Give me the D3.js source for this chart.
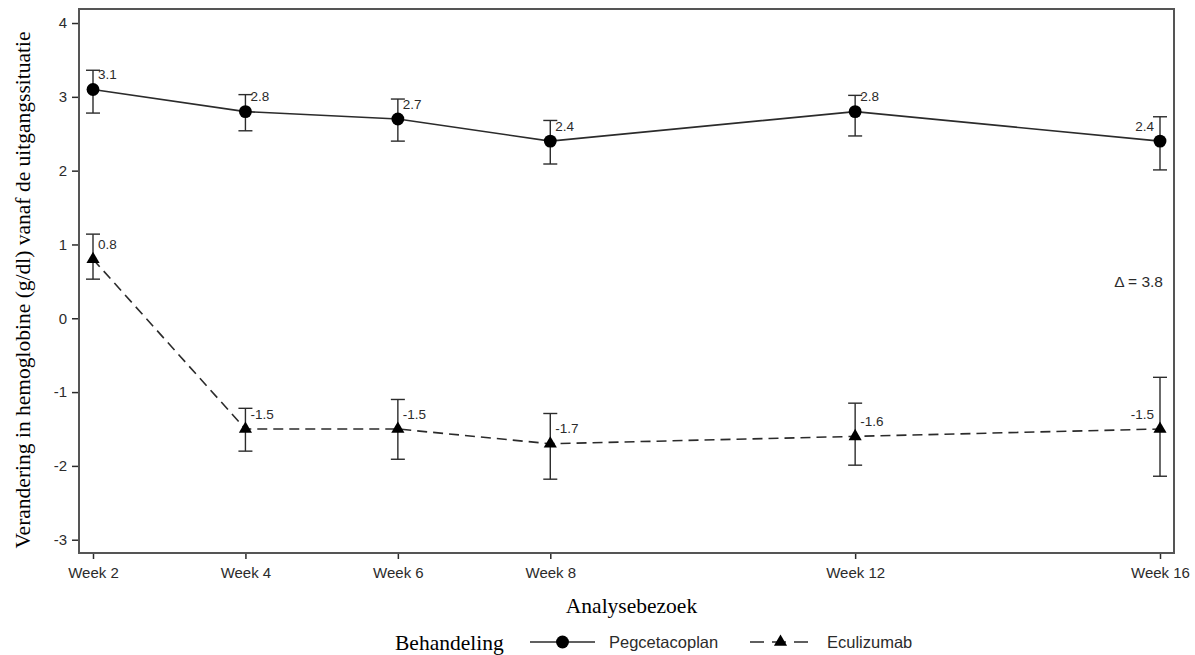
<!DOCTYPE html>
<html>
<head>
<meta charset="utf-8">
<script src="https://cdn.jsdelivr.net/npm/d3@7"></script>
<style>
    body { margin: 0; background: #fff; }
    svg { display: block; }
</style>
</head>
<body>
<svg id="chart"></svg>
<script>
// values
const weeks = [2, 4, 6, 8, 12, 16];
const weekLabels = ["Week 2", "Week 4", "Week 6", "Week 8", "Week 12", "Week 16"];
const yTicks = [-3, -2, -1, 0, 1, 2, 3, 4];

const pegMean = [3.1, 2.8, 2.7, 2.4, 2.8, 2.4];
const pegUpper = [3.36, 3.03, 2.97, 2.68, 3.02, 2.73];
const pegLower = [2.78, 2.54, 2.40, 2.09, 2.47, 2.01];

const ecuMean = [0.8, -1.5, -1.5, -1.7, -1.6, -1.5];
const ecuUpper = [1.14, -1.22, -1.10, -1.29, -1.15, -0.80];
const ecuLower = [0.53, -1.80, -1.91, -2.18, -1.99, -2.14];

const deltaText = "\u0394 = 3.8";

const width = 1195;
const height = 655;

const frame = { left: 79, right: 1174, top: 9, bottom: 553 };
const inset = 14;

const ink = "#2b2b2b";
const sans = "Arial, 'Liberation Sans', sans-serif";
const serif = "'Times New Roman', 'Liberation Serif', serif";

// plain hyphen instead of the unicode minus d3 uses
const hyphen = (f) => (v) => f(v).replace("\u2212", "-");
const fmtInt = hyphen(d3.format("d"));
const fmtOne = hyphen(d3.format(".1f"));

const svg = d3.select("#chart").attr("width", width).attr("height", height);

const scaleX = d3.scaleLinear().domain([2, 16]).range([frame.left + inset, frame.right - inset]);
const scaleY = d3.scaleLinear().domain([-3.18, 4.19]).range([frame.bottom, frame.top]);

function toSeries(mean, upper, lower) {
    return weeks.map((w, i) => ({ week: w, value: mean[i], hi: upper[i], lo: lower[i] }));
}

const series = [
    { name: "Pegcetacoplan", data: toSeries(pegMean, pegUpper, pegLower), dash: null, marker: d3.symbolCircle, size: 130 },
    { name: "Eculizumab", data: toSeries(ecuMean, ecuUpper, ecuLower), dash: "10,6", marker: d3.symbolTriangle, size: 75 }
];

// axes
const yAxis = d3.axisLeft(scaleY).tickValues(yTicks).tickSize(7).tickPadding(5).tickFormat(fmtInt);
const xAxis = d3.axisBottom(scaleX).tickValues(weeks).tickSize(6).tickPadding(8)
    .tickFormat((d, i) => weekLabels[i]);

const gy = svg.append("g").attr("transform", `translate(${frame.left},0)`).call(yAxis);
const gx = svg.append("g").attr("transform", `translate(0,${frame.bottom})`).call(xAxis);

[gx, gy].forEach((g) => {
    g.select(".domain").remove();
    g.selectAll(".tick line").attr("stroke", ink).attr("stroke-width", 1.5);
    g.selectAll(".tick text").attr("fill", ink).style("font-family", sans).style("font-size", "15px");
});

// frame
svg.append("rect")
    .attr("x", frame.left)
    .attr("y", frame.top)
    .attr("width", frame.right - frame.left)
    .attr("height", frame.bottom - frame.top)
    .attr("fill", "none")
    .attr("stroke", "#555")
    .attr("stroke-width", 2);

const line = d3.line().x((d) => scaleX(d.week)).y((d) => scaleY(d.value));

series.forEach((s) => {
    const g = svg.append("g").attr("class", "series");

    g.append("path")
        .datum(s.data)
        .attr("fill", "none")
        .attr("stroke", ink)
        .attr("stroke-width", 1.6)
        .attr("stroke-dasharray", s.dash)
        .attr("d", line);

    const bars = g.selectAll("g.err").data(s.data).join("g").attr("class", "err")
        .attr("stroke", ink).attr("stroke-width", 1.4);
    bars.append("line")
        .attr("x1", (d) => scaleX(d.week)).attr("x2", (d) => scaleX(d.week))
        .attr("y1", (d) => scaleY(d.hi)).attr("y2", (d) => scaleY(d.lo));
    bars.append("line")
        .attr("x1", (d) => scaleX(d.week) - 7).attr("x2", (d) => scaleX(d.week) + 7)
        .attr("y1", (d) => scaleY(d.hi)).attr("y2", (d) => scaleY(d.hi));
    bars.append("line")
        .attr("x1", (d) => scaleX(d.week) - 7).attr("x2", (d) => scaleX(d.week) + 7)
        .attr("y1", (d) => scaleY(d.lo)).attr("y2", (d) => scaleY(d.lo));

    g.selectAll("path.marker").data(s.data).join("path")
        .attr("class", "marker")
        .attr("d", d3.symbol(s.marker, s.size))
        .attr("transform", (d) => `translate(${scaleX(d.week)},${scaleY(d.value)})`)
        .attr("fill", "#000");

    g.selectAll("text.label").data(s.data).join("text")
        .attr("class", "label")
        .attr("x", (d, i) => scaleX(d.week) + (i === s.data.length - 1 ? -6 : 5))
        .attr("y", (d) => scaleY(d.value) - 15)
        .attr("dy", "0.35em")
        .attr("text-anchor", (d, i) => (i === s.data.length - 1 ? "end" : "start"))
        .attr("fill", ink)
        .style("font-family", sans)
        .style("font-size", "13.5px")
        .text((d) => fmtOne(d.value));
});

svg.append("text")
    .attr("x", frame.right - 11)
    .attr("y", 282)
    .attr("dy", "0.35em")
    .attr("text-anchor", "end")
    .attr("fill", ink)
    .style("font-family", sans)
    .style("font-size", "15.5px")
    .text(deltaText);

// axis titles
svg.append("text")
    .attr("x", (frame.left + frame.right) / 2 + 5)
    .attr("y", 605)
    .attr("dy", "0.35em")
    .attr("text-anchor", "middle")
    .attr("fill", "#000")
    .style("font-family", serif)
    .style("font-size", "21.5px")
    .text("Analysebezoek");

svg.append("text")
    .attr("transform", "translate(22,290) rotate(-90)")
    .attr("dy", "0.35em")
    .attr("text-anchor", "middle")
    .attr("fill", "#000")
    .style("font-family", serif)
    .style("font-size", "21.5px")
    .text("Verandering in hemoglobine (g/dl) vanaf de uitgangssituatie");

// legend
const legend = svg.append("g").attr("transform", "translate(0,642)");

legend.append("text")
    .attr("x", 395)
    .attr("dy", "0.35em")
    .attr("fill", "#000")
    .style("font-family", serif)
    .style("font-size", "21.5px")
    .text("Behandeling");

const legendItems = [
    { s: series[0], x0: 530, x1: 595, tx: 609 },
    { s: series[1], x0: 750, x1: 811, tx: 827 }
];

legendItems.forEach((item) => {
    const cx = (item.x0 + item.x1) / 2;
    legend.append("line")
        .attr("x1", item.x0).attr("x2", item.x1)
        .attr("stroke", ink).attr("stroke-width", 1.6)
        .attr("stroke-dasharray", item.s.dash ? "14,8" : null);
    legend.append("path")
        .attr("d", d3.symbol(item.s.marker, item.s.size)())
        .attr("transform", `translate(${cx},0)`)
        .attr("fill", "#000");
    legend.append("text")
        .attr("x", item.tx)
        .attr("dy", "0.35em")
        .attr("fill", ink)
        .style("font-family", sans)
        .style("font-size", "16.5px")
        .text(item.s.name);
});
</script>
</body>
</html>
